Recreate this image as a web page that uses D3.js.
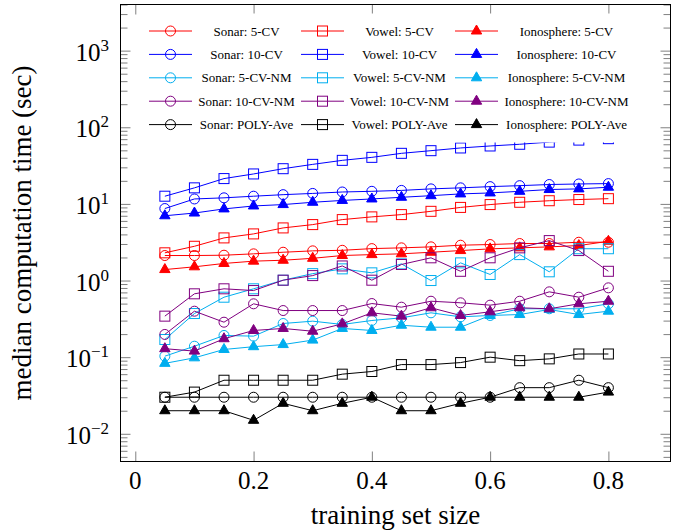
<!DOCTYPE html>
<html>
<head>
<meta charset="utf-8">
<script src="https://cdn.jsdelivr.net/npm/d3@7"></script>
<style>
  html, body { margin: 0; padding: 0; background: #fff; }
  svg { display: block; }
  text { font-family: "Liberation Serif", "Times New Roman", serif; fill: #000; }
</style>
</head>
<body>
<svg id="chart" width="686" height="531"></svg>
<script>
// ---------------- data ----------------
const trainSizes = [0.05,0.10,0.15,0.20,0.25,0.30,0.35,0.40,0.45,0.50,0.55,0.60,0.65,0.70,0.75,0.80];

const sonar5CV     = [2.12,2.12,2.14,2.23,2.34,2.44,2.48,2.61,2.67,2.75,2.89,2.95,3.04,3.04,3.16,3.16];
const vowel5CV     = [2.30,2.80,3.60,4.06,4.86,5.37,6.24,6.77,7.25,8.0,9.0,9.8,10.5,11.0,11.4,11.7];
const iono5CV      = [1.39,1.51,1.67,1.79,1.84,1.95,2.12,2.18,2.23,2.34,2.46,2.59,2.67,2.75,2.86,3.25];
const sonar10CV    = [8.7,11.6,12.0,12.6,13.2,13.7,14.3,14.6,15.0,15.7,16.2,16.8,17.3,17.9,18.2,18.4];
const vowel10CV    = [12.6,16.2,21.4,24.6,28.8,32.8,37.0,40.5,45.7,49.5,53.7,57,60,64,68,71];
const iono10CV     = [7.0,7.6,8.6,9.4,9.8,10.5,11.1,11.6,12.2,12.8,13.5,13.9,14.6,15.4,15.7,16.5];
const sonar5CVNM   = [0.103,0.139,0.192,0.188,0.275,0.295,0.267,0.301,0.326,0.379,0.336,0.350,0.428,0.428,0.428,0.497];
const vowel5CVNM   = [0.170,0.371,0.606,0.78,1.01,1.23,1.42,1.26,1.65,1.0,1.70,1.20,2.18,1.30,2.6,2.6];
const iono5CVNM    = [0.083,0.098,0.126,0.137,0.146,0.167,0.237,0.223,0.261,0.246,0.246,0.350,0.360,0.419,0.360,0.398];
const sonar10CVNM  = [0.198,0.398,0.286,0.497,0.406,0.406,0.406,0.501,0.449,0.537,0.512,0.477,0.537,0.712,0.606,0.803];
const vowel10CVNM  = [0.343,0.671,0.78,0.74,1.01,1.16,1.55,1.01,1.62,1.98,1.32,1.98,2.67,3.32,2.46,1.32];
const iono10CVNM   = [0.129,0.120,0.174,0.223,0.237,0.218,0.272,0.379,0.343,0.441,0.350,0.391,0.441,0.428,0.497,0.537];
const sonarPolyAve = [0.03,0.03,0.03,0.03,0.03,0.03,0.03,0.03,0.03,0.03,0.03,0.03,0.04,0.04,0.05,0.04];
const vowelPolyAve = [0.03,0.035,0.05,0.05,0.05,0.05,0.06,0.065,0.08,0.08,0.085,0.1,0.09,0.095,0.11,0.11];
const ionoPolyAve  = [0.02,0.02,0.02,0.015,0.025,0.02,0.025,0.03,0.02,0.02,0.025,0.03,0.03,0.03,0.03,0.035];

const xTickValues = [0, 0.2, 0.4, 0.6, 0.8];
const xTickLabels = ["0", "0.2", "0.4", "0.6", "0.8"];
const yTickExponents = [-2, -1, 0, 1, 2, 3];
const xTitle = "training set size";
const yTitle = "median computation time (sec)";

// series in plotting / legend order (row-wise, 3 columns)
const series = [
  { name: "Sonar: 5-CV",            values: sonar5CV,    color: "#ff0000", mark: "circle" },
  { name: "Vowel: 5-CV",            values: vowel5CV,    color: "#ff0000", mark: "square" },
  { name: "Ionosphere: 5-CV",       values: iono5CV,     color: "#ff0000", mark: "triangle" },
  { name: "Sonar: 10-CV",           values: sonar10CV,   color: "#0000ff", mark: "circle" },
  { name: "Vowel: 10-CV",           values: vowel10CV,   color: "#0000ff", mark: "square" },
  { name: "Ionosphere: 10-CV",      values: iono10CV,    color: "#0000ff", mark: "triangle" },
  { name: "Sonar: 5-CV-NM",         values: sonar5CVNM,  color: "#00aeef", mark: "circle" },
  { name: "Vowel: 5-CV-NM",         values: vowel5CVNM,  color: "#00aeef", mark: "square" },
  { name: "Ionosphere: 5-CV-NM",    values: iono5CVNM,   color: "#00aeef", mark: "triangle" },
  { name: "Sonar: 10-CV-NM",        values: sonar10CVNM, color: "#800080", mark: "circle" },
  { name: "Vowel: 10-CV-NM",        values: vowel10CVNM, color: "#800080", mark: "square" },
  { name: "Ionosphere: 10-CV-NM",   values: iono10CVNM,  color: "#800080", mark: "triangle" },
  { name: "Sonar: POLY-Ave",        values: sonarPolyAve, color: "#000000", mark: "circle" },
  { name: "Vowel: POLY-Ave",        values: vowelPolyAve, color: "#000000", mark: "square" },
  { name: "Ionosphere: POLY-Ave",   values: ionoPolyAve,  color: "#000000", mark: "triangle" }
];

// ---------------- layout ----------------
const L = 120.5, R = 670.5, T = 4.5, B = 461.5;
const svg = d3.select("#chart");
svg.append("rect").attr("width", 686).attr("height", 531).attr("fill", "#fff");

const x = d3.scaleLinear().domain([-0.025, 0.905]).range([L, R]);
const y = d3.scaleLog().domain([0.00435, 4000]).range([B, T]);

// ticks
const yMajor = yTickExponents.map(e => Math.pow(10, e));
const yMinor = [];
for (let e = -3; e <= 3; e++) for (let m = 2; m <= 9; m++) {
  const v = m * Math.pow(10, e);
  if (v >= y.domain()[0] && v <= y.domain()[1]) yMinor.push(v);
}
const tickColor = "#808080";
function styleAxis(g) {
  g.select(".domain").remove();
  g.selectAll(".tick line").attr("stroke", tickColor).attr("stroke-width", 1);
  g.selectAll(".tick text").remove();
}
svg.append("g").attr("transform", `translate(${L},0)`)
  .call(d3.axisRight(y).tickValues(yMajor).tickSize(10).tickFormat(() => "")).call(styleAxis);
svg.append("g").attr("transform", `translate(${L},0)`)
  .call(d3.axisRight(y).tickValues(yMinor).tickSize(7).tickFormat(() => "")).call(styleAxis);
svg.append("g").attr("transform", `translate(${R},0)`)
  .call(d3.axisLeft(y).tickValues(yMajor).tickSize(10).tickFormat(() => "")).call(styleAxis);
svg.append("g").attr("transform", `translate(${R},0)`)
  .call(d3.axisLeft(y).tickValues(yMinor).tickSize(7).tickFormat(() => "")).call(styleAxis);
svg.append("g").attr("transform", `translate(0,${B})`)
  .call(d3.axisTop(x).tickValues(xTickValues).tickSize(10).tickFormat(() => "")).call(styleAxis);
svg.append("g").attr("transform", `translate(0,${T})`)
  .call(d3.axisBottom(x).tickValues(xTickValues).tickSize(10).tickFormat(() => "")).call(styleAxis);

// tick labels
svg.append("g").selectAll("text").data(xTickValues).join("text")
  .attr("x", d => x(d)).attr("y", 489)
  .attr("text-anchor", "middle").attr("font-size", 25)
  .text((d, i) => xTickLabels[i]);

const yl = svg.append("g").selectAll("text").data(yTickExponents).join("text")
  .attr("x", 109).attr("y", d => y(Math.pow(10, d)) + 10)
  .attr("text-anchor", "end").attr("font-size", 25);
yl.append("tspan").text("10");
yl.append("tspan").attr("font-size", 17).attr("dy", -10)
  .text(d => (d < 0 ? "\u2212" + Math.abs(d) : String(d)));

// axis titles
svg.append("text").attr("x", (L + R) / 2).attr("y", 524)
  .attr("text-anchor", "middle").attr("font-size", 27).text(xTitle);
svg.append("text").attr("transform", `translate(31,${(T + B) / 2}) rotate(-90)`)
  .attr("text-anchor", "middle").attr("font-size", 27).text(yTitle);

// ---------------- marks ----------------
const plot = svg.append("g");
const line = d3.line().x((d, i) => x(trainSizes[i])).y(d => y(d));

function drawMark(g, type, color, cx, cy) {
  if (type === "circle") {
    g.append("circle").attr("cx", cx).attr("cy", cy).attr("r", 5)
      .attr("fill", "none").attr("stroke", color).attr("stroke-width", 1);
  } else if (type === "square") {
    g.append("rect").attr("x", cx - 5).attr("y", cy - 5).attr("width", 10).attr("height", 10)
      .attr("fill", "none").attr("stroke", color).attr("stroke-width", 1);
  } else {
    const r = 6;
    g.append("path")
      .attr("d", `M${cx},${cy - r}L${cx - 0.866 * r},${cy + 0.5 * r}L${cx + 0.866 * r},${cy + 0.5 * r}Z`)
      .attr("fill", color).attr("stroke", color).attr("stroke-width", 1);
  }
}

series.forEach(s => {
  const g = plot.append("g");
  g.append("path").datum(s.values).attr("d", line)
    .attr("fill", "none").attr("stroke", s.color).attr("stroke-width", 1);
  s.values.forEach((v, i) => drawMark(g, s.mark, s.color, x(trainSizes[i]), y(v)));
});

// ---------------- legend ----------------
const leg = svg.append("g");
leg.append("rect").attr("x", 140).attr("y", 13.5).attr("width", 497).attr("height", 129)
  .attr("fill", "#fff");
const colLineX = [149, 301, 455];
const colTextX = [246.5, 399.5, 566.5];
const rowY0 = 31, rowStep = 23.4;
series.forEach((s, i) => {
  const col = i % 3, row = Math.floor(i / 3);
  const ly = rowY0 + row * rowStep;
  const lx0 = colLineX[col], lx1 = lx0 + 43;
  leg.append("line").attr("x1", lx0).attr("x2", lx1).attr("y1", ly).attr("y2", ly)
    .attr("stroke", s.color).attr("stroke-width", 1);
  drawMark(leg, s.mark, s.color, (lx0 + lx1) / 2, ly);
  leg.append("text").attr("x", colTextX[col]).attr("y", ly + 4.5)
    .attr("text-anchor", "middle").attr("font-size", 13).text(s.name);
});

// frame
svg.append("rect").attr("x", L).attr("y", T).attr("width", R - L).attr("height", B - T)
  .attr("fill", "none").attr("stroke", "#000").attr("stroke-width", 1);
</script>
</body>
</html>
